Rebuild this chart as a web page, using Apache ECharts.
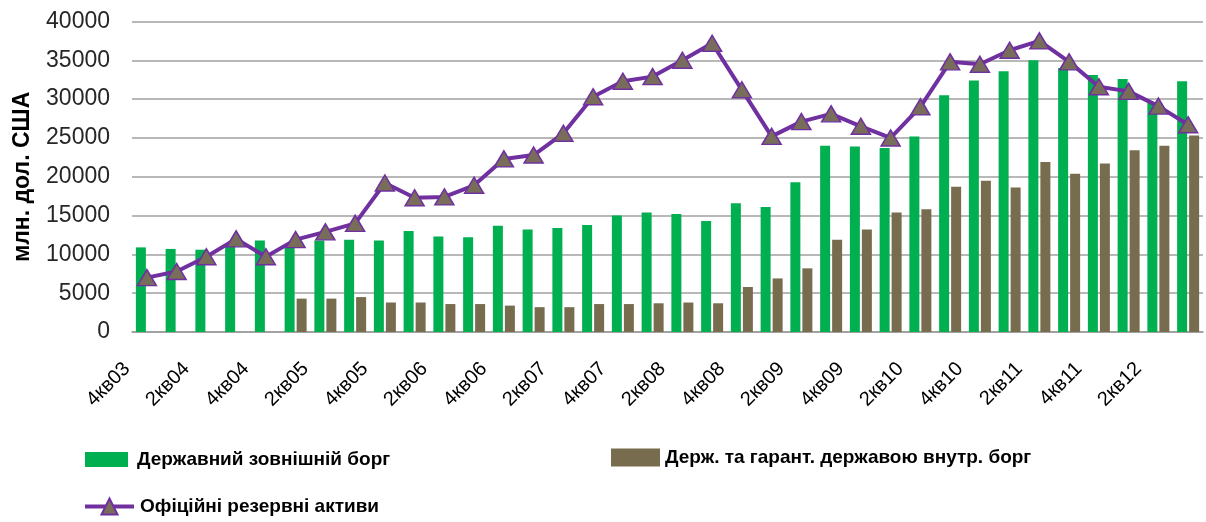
<!DOCTYPE html>
<html>
<head>
<meta charset="utf-8">
<script src="https://cdn.jsdelivr.net/npm/echarts@6/dist/echarts.min.js"></script>
<style>
html,body{margin:0;padding:0;background:#fff;}
#chart{width:1206px;height:522px;}
</style>
</head>
<body>
<div id="chart"></div>
<script>
var quarters = [
	'4кв03',
	'1кв04','2кв04','3кв04','4кв04',
	'1кв05','2кв05','3кв05','4кв05',
	'1кв06','2кв06','3кв06','4кв06',
	'1кв07','2кв07','3кв07','4кв07',
	'1кв08','2кв08','3кв08','4кв08',
	'1кв09','2кв09','3кв09','4кв09',
	'1кв10','2кв10','3кв10','4кв10',
	'1кв11','2кв11','3кв11','4кв11',
	'1кв12','2кв12','3кв12'
];
// Державний зовнішній борг
var extDebt = [10900,10700,10600,11200,11800,10900,11800,11900,11800,13000,
	12300,12200,13700,13200,13400,13800,15000,15400,15200,14300,
	16600,16100,19300,24000,23900,23700,25200,30500,32400,33600,
	35000,34000,33100,32600,29500,32300];
// Держ. та гарант. державою внутр. борг
var intDebt = [null,null,null,null,null,4300,4300,4500,3800,3800,
	3600,3600,3400,3200,3200,3600,3600,3700,3800,3700,
	5800,6900,8200,11900,13200,15400,15800,18700,19500,18600,
	21900,20400,21700,23400,24000,25300];
// Офіційні резервні активи
var reserves = [7000,7800,9700,12000,9700,11900,12900,14000,19200,17300,
	17400,18900,22300,22800,25600,30300,32300,32900,35000,37200,
	31200,25200,27100,28100,26500,25000,29000,34800,34500,36300,
	37500,34800,31600,31000,29100,26700];
var yTicks = [0,5000,10000,15000,20000,25000,30000,35000,40000];

var names = ['Державний зовнішній борг','Держ. та гарант. державою внутр. борг','Офіційні резервні активи'];
function legendText(gap) {
	return {
		color: '#000',
		fontFamily: 'Liberation Sans',
		fontWeight: 'bold',
		fontSize: 19,
		padding: [0, 0, 0, gap]
	};
}

var option = {
	animation: false,
	backgroundColor: '#fff',
	grid: {left: 132, right: 3, top: 21.5, bottom: 190, containLabel: false, outerBoundsMode: 'none'},
	legend: [{
		data: [{name: names[0], icon: 'rect'}], left: 85, top: 450, padding: 0,
		itemWidth: 43, itemHeight: 15,
		textStyle: legendText(4)
	}, {
		data: [{name: names[1], icon: 'rect'}], left: 611, top: 448, padding: 0,
		itemWidth: 49, itemHeight: 18,
		textStyle: legendText(0)
	}, {
		data: [names[2]], left: 83, top: 497, padding: 0,
		itemWidth: 49, itemHeight: 20,
		lineStyle: {width: 4, color: '#7030a0'},
		textStyle: legendText(1)
	}],
	xAxis: {
		type: 'category',
		data: quarters,
		axisLine: {show: true, lineStyle: {color: '#9a9a9a', width: 1.5}},
		axisTick: {show: false},
		axisLabel: {
			interval: 1,
			rotate: 45,
			color: '#000',
			fontFamily: 'Liberation Sans',
			fontSize: 20,
			margin: 14,
			padding: [0, 28, 0, 0]
		}
	},
	yAxis: {
		type: 'value',
		min: yTicks[0],
		max: yTicks[yTicks.length - 1],
		interval: 5000,
		name: 'млн. дол. США',
		nameLocation: 'middle',
		nameGap: 98,
		nameTextStyle: {
			color: '#000',
			fontFamily: 'Liberation Sans',
			fontWeight: 'bold',
			fontSize: 23
		},
		axisLine: {show: false},
		axisTick: {show: false},
		axisLabel: {
			color: '#262626',
			fontFamily: 'Liberation Sans',
			fontSize: 23,
			margin: 22,
			formatter: function (v) { return String(v); }
		},
		splitLine: {lineStyle: {color: '#a0a0a0', width: 1.5}}
	},
	series: [{
		name: names[0],
		type: 'bar',
		data: extDebt,
		barWidth: 10,
		barGap: '20%',
		itemStyle: {color: '#00b050'}
	}, {
		name: names[1],
		type: 'bar',
		data: intDebt,
		barWidth: 10,
		itemStyle: {color: '#786c4e'}
	}, {
		name: names[2],
		type: 'line',
		data: reserves,
		z: 5,
		symbol: 'triangle',
		symbolSize: [19, 16],
		lineStyle: {color: '#7030a0', width: 4},
		itemStyle: {color: '#786c5a', borderColor: '#7030a0', borderWidth: 1.5}
	}]
};

var chart = echarts.init(document.getElementById('chart'));
chart.setOption(option);
</script>
</body>
</html>
